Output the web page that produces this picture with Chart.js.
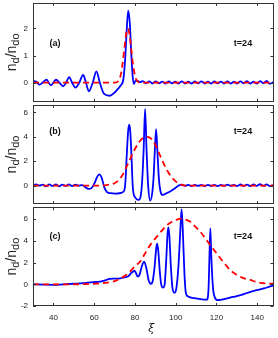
<!DOCTYPE html>
<html>
<head>
<meta charset="utf-8">
<script src="https://cdn.jsdelivr.net/npm/chart.js@4.4.0/dist/chart.umd.min.js"></script>
<style>
  body { margin: 0; background: #fff; width: 278px; height: 338px; overflow: hidden; position: relative; }
  canvas { position: absolute; left: 0; }
</style>
</head>
<body>
<canvas id="chartA" width="278" height="104" style="top:0"></canvas>
<canvas id="chartB" width="278" height="102" style="top:104px"></canvas>
<canvas id="chartC" width="278" height="132" style="top:206px"></canvas>
<script>
// x ticks shared by all panels
var xTicks = [40, 60, 80, 100, 120, 140];

// panel (a)
var aTicks = [0, 1, 2];
var aBlueX = [30, 31.5, 33.3, 35, 36.6, 38.8, 41.3, 43, 44.8, 46.2, 47.8, 49.2, 50.8, 52.7, 54.6, 56, 57.4, 59.3, 61.1, 62.8,
  64.8, 67.7, 70.2, 71.8, 73, 74.3, 75.2, 75.9, 76.7, 77.5, 78.2, 78.9, 79.5, 80.2, 81.1, 82.5, 83.8, 85.4, 87, 88.6,
  90.2, 91.8, 93.4, 95, 96.6, 98.2, 99.8, 101.4, 103, 104.6, 106.2, 107.8, 109.4, 111, 112.6, 114.2, 115.8, 117.4, 119, 120.6,
  122.2, 123.8, 125.4, 127, 128.6, 130.2, 131.8, 133.4, 135, 136.6, 138.2, 139.8, 141.4, 143, 144.6, 146.2, 148];
var aBlue = [0.06, 0.04, -0.07, 0.03, 0.11, -0.1, 0.11, 0, -0.13, 0, 0.21, 0, -0.18, 0, 0.29, 0, -0.32, 0, 0.42, 0,
  -0.4, -0.48, -0.35, -0.22, -0.1, 0.11, 0.85, 1.83, 2.66, 2.2, 1.09, 0.23, -0.04, 0.06, 0.08, 0.02, 0.06, -0.02, 0.05, -0.03,
  0.05, -0.02, 0.04, -0.03, 0.05, -0.02, 0.04, -0.03, 0.05, -0.03, 0.04, -0.03, 0.05, -0.02, 0.05, -0.03, 0.04, -0.03, 0.05, -0.02,
  0.04, -0.03, 0.05, -0.03, 0.04, -0.03, 0.05, -0.02, 0.06, -0.03, 0.04, -0.03, 0.06, -0.02, 0.07, -0.04, 0.02];
var aRedX = [30, 70, 72, 73, 74, 74.5, 75, 75.5, 76, 76.5, 77, 77.5, 78, 78.5, 79, 80, 81, 83, 148];
var aRed = [0, 0, 0.07, 0.27, 0.72, 1.04, 1.38, 1.7, 1.92, 2.0, 1.92, 1.7, 1.38, 1.04, 0.72, 0.27, 0.07, 0, 0];

// panel (b)
var bTicks = [0, 2, 4, 6];
var bBlueX = [30, 31.6, 33.2, 34.8, 36.4, 38, 39.6, 41.2, 42.8, 44.4, 46, 47.6, 49.2, 50.8, 52.4, 54, 55.5, 57.2, 58.7, 60.2,
  61.4, 62.6, 63.8, 64.9, 66.2, 68, 70.5, 73, 74.3, 75.2, 76, 76.7, 77.2, 77.7, 78.3, 79, 80.3, 81.8, 82.9, 83.6,
  84.3, 85, 85.7, 86.5, 87.5, 88.5, 89.2, 89.7, 90.4, 91.1, 91.8, 92.6, 93.6, 95.7, 97.5, 99, 100.5, 101.4, 103, 104.6,
  106.2, 107.8, 109.4, 111, 112.6, 114.2, 115.8, 117.4, 119, 120.6, 122.2, 123.8, 125.4, 127, 128.6, 130.2, 131.8, 133.4, 135, 136.6,
  138.2, 139.8, 141.4, 143, 144.6, 146.2, 148];
var bBlue = [0.05, 0.1, 0, 0.08, -0.05, 0.1, -0.02, 0.1, -0.05, 0.08, -0.02, 0.1, -0.03, 0.08, 0, 0.05, -0.1, -0.27, -0.2, 0.2,
  0.7, 0.93, 0.6, -0.1, -0.5, -0.62, -0.65, -0.6, -0.5, 0, 2.5, 4.5, 5.0, 4.5, 2.5, -0.2, -1.0, -1.17, -0.8, 0.5,
  3.0, 6.27, 3.0, 0, -1.22, -0.6, 0.8, 2.6, 4.63, 2.6, 0.5, -0.5, -0.76, -0.6, -0.45, -0.3, -0.1, 0, 0.08, -0.02,
  0.07, -0.03, 0.06, -0.02, 0.07, -0.03, 0.06, -0.02, 0.07, -0.03, 0.06, -0.02, 0.08, -0.02, 0.07, -0.03, 0.1, -0.02, 0.08, -0.03,
  0.1, -0.02, 0.12, -0.02, 0.1, -0.03, 0.05];
var bRedX = [30, 60, 66, 68, 70, 72, 74, 76, 78, 80, 82, 84, 86, 88, 90, 92, 94, 96, 98, 100, 102, 104, 106, 148];
var bRed = [0, 0, 0.05, 0.1, 0.2, 0.45, 0.9, 1.57, 2.3, 3.0, 3.55, 3.9, 4.0, 3.85, 3.35, 2.6, 1.85, 1.2, 0.7, 0.35, 0.12, 0.03, 0, 0];

// panel (c)
var cTicks = [-2, 0, 2, 4, 6];
var cBlueX = [30, 35, 40, 45, 50, 54.7, 57, 59.6, 62.9, 65, 67.8, 70, 72.8, 75, 76.8, 78, 79.3, 79.8, 80.6, 81.4,
  82.3, 83.3, 84.5, 85.6, 86.7, 87.8, 88.6, 89.6, 90.5, 90.9, 91.4, 92.3, 93, 93.8, 94.6, 95.3, 96, 96.4, 96.9, 97.6,
  98.4, 99.4, 100.3, 101.3, 102.3, 102.9, 103.5, 104.3, 105, 106, 107.2, 110, 112.1, 115.3, 116.1, 116.5, 117, 117.5, 118.3, 119.2,
  120.7, 123, 125.3, 128, 131.9, 135, 138.4, 141, 143.3, 146, 148];
var cBlue = [0, -0.03, -0.05, 0, 0.05, 0.1, 0.15, 0.2, 0.25, 0.35, 0.5, 0.52, 0.55, 0.65, 0.75, 1.0, 1.2, 1.25, 1.0, 0.7,
  0.9, 1.6, 2.1, 1.5, 0.4, 0.05, 0.2, 1.5, 3.4, 3.76, 3.2, 1.0, -0.1, -0.3, 0, 2.0, 4.6, 5.24, 4.5, 1.8,
  -0.3, -0.78, -0.4, 1.5, 5.0, 6.9, 5.0, 1.0, -0.8, -1.1, -1.2, -1.3, -1.37, -1.42, -0.5, 2.0, 5.15, 2.5, -0.3, -1.2,
  -1.46, -1.4, -1.3, -1.17, -1.0, -0.8, -0.6, -0.48, -0.38, -0.22, -0.1];
var cRedX = [30, 50, 55, 60, 65, 70, 73, 76, 78, 80, 82.6, 85.9, 88, 90.8, 93, 95.7, 98, 100.6, 102.5, 104.5,
  107.2, 109.5, 112.1, 114.5, 117, 119.5, 121.9, 124.3, 126.8, 129.3, 131.7, 134, 136.6, 139, 141.5, 144, 148];
var cRed = [0, 0, 0.02, 0.05, 0.12, 0.3, 0.55, 0.9, 1.25, 1.65, 2.1, 3.15, 3.75, 4.4, 4.9, 5.45, 5.75, 5.97, 6.05, 5.98,
  5.76, 5.35, 4.84, 4.25, 3.6, 3.0, 2.4, 1.85, 1.3, 0.95, 0.7, 0.52, 0.4, 0.25, 0.14, 0.08, 0.05];

function points(xs, ys) {
  return xs.map(function (x, i) { return { x: x, y: ys[i] }; });
}

// box, inward ticks and the text labels
var framePlugin = {
  id: 'frame',
  afterDatasetsDraw: function (chart, args, opts) {
    var ctx = chart.ctx, a = chart.chartArea;
    var xs = chart.scales.x, ys = chart.scales.y;
    ctx.save();
    ctx.strokeStyle = '#333';
    ctx.lineWidth = 1;
    ctx.strokeRect(Math.round(a.left) + 0.5, Math.round(a.top) + 0.5,
      Math.round(a.right - a.left) - 1, Math.round(a.bottom - a.top) - 1);
    ctx.beginPath();
    xTicks.forEach(function (v) {
      var px = Math.round(xs.getPixelForValue(v)) + 0.5;
      ctx.moveTo(px, a.bottom); ctx.lineTo(px, a.bottom - 3);
      ctx.moveTo(px, a.top); ctx.lineTo(px, a.top + 3);
    });
    opts.yTicks.forEach(function (v) {
      var py = Math.round(ys.getPixelForValue(v)) + 0.5;
      ctx.moveTo(a.left, py); ctx.lineTo(a.left + 3, py);
      ctx.moveTo(a.right, py); ctx.lineTo(a.right - 3, py);
    });
    ctx.stroke();

    ctx.fillStyle = '#111';
    ctx.font = 'bold 9px "Liberation Sans", Arial, sans-serif';
    ctx.textBaseline = 'middle';
    ctx.textAlign = 'center';
    ctx.fillText(opts.tag, 55, opts.labelY);
    ctx.fillText('t=24', 243, opts.labelY);

    // y title n_d/n_do, rotated
    var cy = (a.top + a.bottom) / 2;
    var parts = [['n', 14, 0], ['d', 11, 2.5], ['/n', 14, 0], ['do', 11, 2.5]];
    var w = 0;
    parts.forEach(function (p) {
      ctx.font = p[1] + 'px "Liberation Sans", Arial, sans-serif';
      p.push(ctx.measureText(p[0]).width);
      w += p[3];
    });
    ctx.translate(16, cy);
    ctx.rotate(-Math.PI / 2);
    ctx.textAlign = 'left';
    ctx.textBaseline = 'alphabetic';
    ctx.fillStyle = '#222';
    var x = -w / 2;
    parts.forEach(function (p) {
      ctx.font = p[1] + 'px "Liberation Sans", Arial, sans-serif';
      ctx.fillText(p[0], x, p[2]);
      x += p[3];
    });
    ctx.restore();

    if (opts.showXTitle) {
      ctx.save();
      ctx.fillStyle = '#111';
      ctx.font = 'italic 11px "DejaVu Serif", serif';
      ctx.textAlign = 'center';
      ctx.textBaseline = 'middle';
      ctx.fillText('\u03be', (a.left + a.right) / 2 - 2, a.bottom + 23);
      ctx.restore();
    }
  }
};

function noPad(s) {
  s.paddingTop = 0;
  s.paddingBottom = 0;
  s.paddingLeft = 0;
  s.paddingRight = 0;
}

function makeChart(id, blueX, blue, redX, red, yMin, yMax, yTicks, tag, labelY, pad, showX) {
  var ctx = document.getElementById(id).getContext('2d');
  return new Chart(ctx, {
    type: 'line',
    data: {
      datasets: [{
        data: points(redX, red),
        borderColor: '#ff0000',
        borderWidth: 1.8,
        borderDash: [6, 4],
        pointRadius: 0,
        cubicInterpolationMode: 'monotone',
        fill: false
      }, {
        data: points(blueX, blue),
        borderColor: '#0000ff',
        borderWidth: 1.8,
        pointRadius: 0,
        cubicInterpolationMode: 'monotone',
        fill: false
      }]
    },
    options: {
      responsive: false,
      devicePixelRatio: 1,
      animation: false,
      events: [],
      layout: { padding: { left: 0, right: 4.5, top: pad[0], bottom: pad[1] } },
      plugins: {
        legend: { display: false },
        tooltip: { enabled: false },
        frame: { yTicks: yTicks, tag: tag, labelY: labelY, showXTitle: showX }
      },
      scales: {
        x: {
          type: 'linear',
          min: 30,
          max: 148,
          display: showX,
          afterBuildTicks: function (s) { s.ticks = xTicks.map(function (v) { return { value: v }; }); },
          afterFit: function (s) { s.height = showX ? 30 : 0; noPad(s); },
          grid: { display: false, drawTicks: false },
          border: { display: false },
          ticks: { font: { size: 8, family: '"Liberation Sans", Arial' }, color: '#222', padding: 7, maxRotation: 0 }
        },
        y: {
          min: yMin,
          max: yMax,
          afterBuildTicks: function (s) { s.ticks = yTicks.map(function (v) { return { value: v }; }); },
          afterFit: function (s) { s.width = 33; noPad(s); },
          grid: { display: false, drawTicks: false },
          border: { display: false },
          ticks: { font: { size: 8, family: '"Liberation Sans", Arial' }, color: '#222', padding: 5 }
        }
      }
    },
    plugins: [framePlugin]
  });
}

makeChart('chartA', aBlueX, aBlue, aRedX, aRed, -0.7, 2.94, aTicks, '(a)', 43.5, [3, 2.3], false);
makeChart('chartB', bBlueX, bBlue, bRedX, bRed, -1.5, 6.6, bTicks, '(b)', 27.5, [1, 2], false);
makeChart('chartC', cBlueX, cBlue, cRedX, cRed, -2, 7.1, cTicks, '(c)', 30.5, [1.3, 2], true);
</script>
</body>
</html>
